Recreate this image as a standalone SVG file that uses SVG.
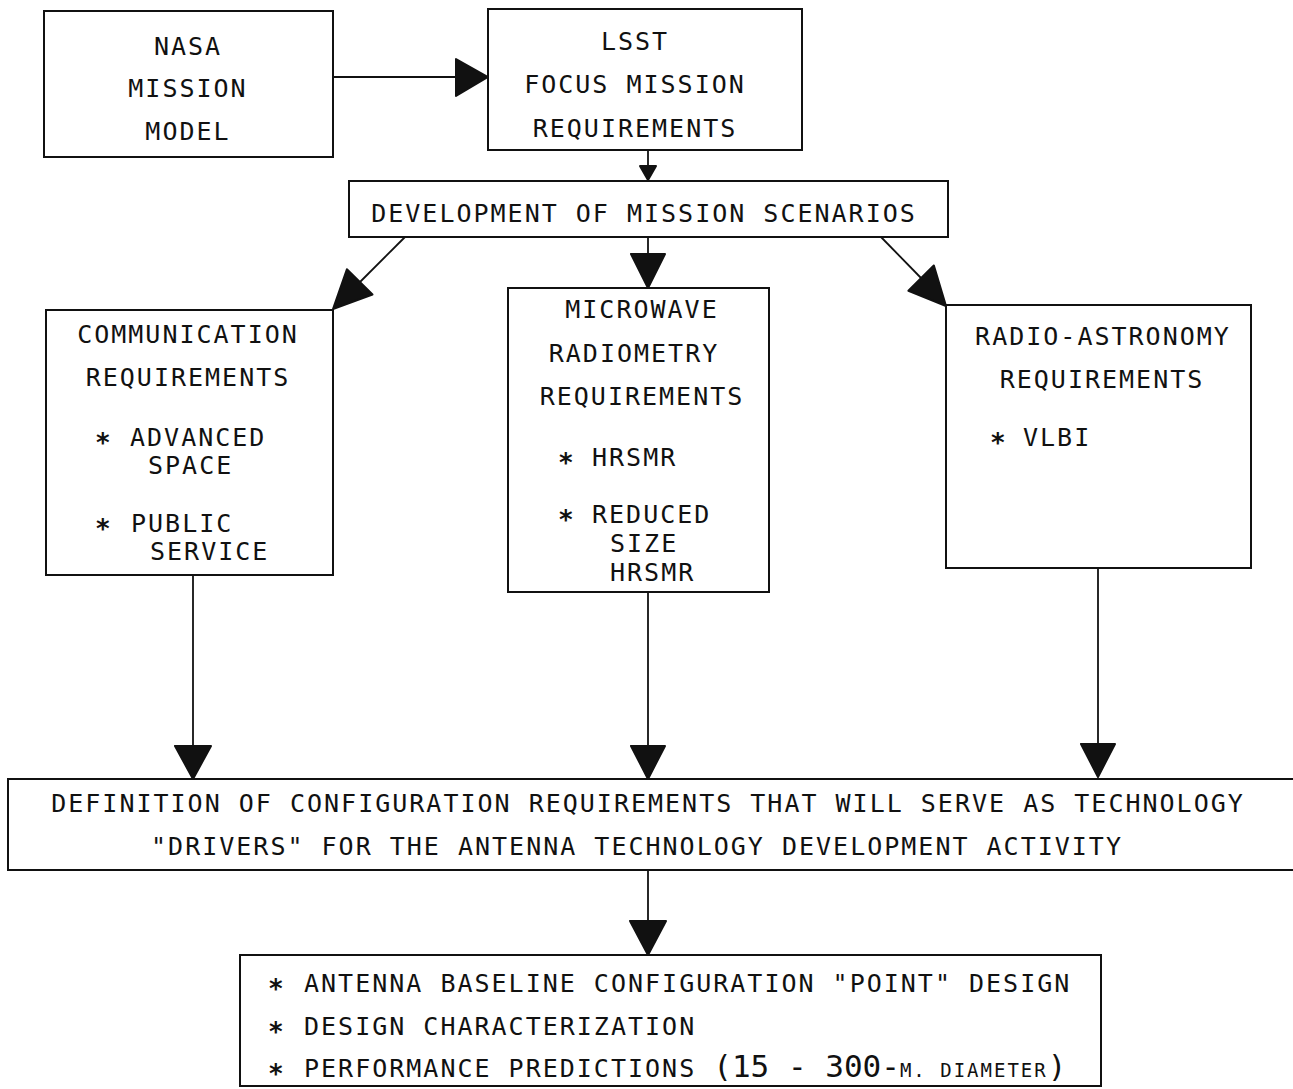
<svg xmlns="http://www.w3.org/2000/svg" width="1293" height="1089" viewBox="0 0 1293 1089">
<style>
.box{fill:none;stroke:#111;stroke-width:2}
.ln{fill:none;stroke:#111;stroke-width:1.8}
.hd{fill:#111;stroke:#111;stroke-width:2;stroke-linejoin:round}
text{font-family:"DejaVu Sans Mono","Liberation Mono",monospace;font-size:25px;fill:#111;letter-spacing:2px}
.c{text-anchor:middle}
.s{font-size:26px;font-weight:bold;letter-spacing:0}
</style>
<rect width="1293" height="1089" fill="#fff"/>
<g id="connectors">
<line class="ln" x1="333" y1="77" x2="456" y2="77"/>
<polygon class="hd" points="488,77 456,59 456,96"/>
<line class="ln" x1="648" y1="150" x2="648" y2="166"/>
<polygon class="hd" points="648,180 640,166 656,166"/>
<line class="ln" x1="405" y1="237" x2="358" y2="284"/>
<polygon class="hd" points="333,309 372.5,294.5 346.9,269.3"/>
<line class="ln" x1="648" y1="237" x2="648" y2="254"/>
<polygon class="hd" points="648,288 631,254 665,254"/>
<line class="ln" x1="881" y1="237" x2="922" y2="279"/>
<polygon class="hd" points="946,306 933.8,265.4 908.4,290.8"/>
<line class="ln" x1="193" y1="575" x2="193" y2="746"/>
<polygon class="hd" points="193,779 175,746 211,746"/>
<line class="ln" x1="648" y1="592" x2="648" y2="746"/>
<polygon class="hd" points="648,779 631,746 665,746"/>
<line class="ln" x1="1098" y1="568" x2="1098" y2="744"/>
<polygon class="hd" points="1098,777 1081,744 1115,744"/>
<line class="ln" x1="648" y1="870" x2="648" y2="921"/>
<polygon class="hd" points="648,955 630,921 666,921"/>
</g>
<g id="nasa">
<rect class="box" x="44" y="11" width="289" height="146"/>
<text class="c" x="188" y="55">NASA</text>
<text class="c" x="188" y="97">MISSION</text>
<text class="c" x="188" y="140">MODEL</text>
</g>
<g id="lsst">
<rect class="box" x="488" y="9" width="314" height="141"/>
<text class="c" x="635" y="50">LSST</text>
<text class="c" x="635" y="93">FOCUS MISSION</text>
<text class="c" x="635" y="137">REQUIREMENTS</text>
</g>
<g id="development">
<rect class="box" x="349" y="181" width="599" height="56"/>
<text class="c" x="644" y="222">DEVELOPMENT OF MISSION SCENARIOS</text>
</g>
<g id="communication">
<rect class="box" x="46" y="310" width="287" height="265"/>
<text class="c" x="188" y="343">COMMUNICATION</text>
<text class="c" x="188" y="386">REQUIREMENTS</text>
<text class="s" x="95" y="452">*</text>
<text x="130" y="446">ADVANCED</text>
<text x="148" y="474">SPACE</text>
<text class="s" x="95" y="538">*</text>
<text x="131" y="532">PUBLIC</text>
<text x="150" y="560">SERVICE</text>
</g>
<g id="microwave">
<rect class="box" x="508" y="288" width="261" height="304"/>
<text class="c" x="642" y="318">MICROWAVE</text>
<text class="c" x="634" y="362">RADIOMETRY</text>
<text class="c" x="642" y="405">REQUIREMENTS</text>
<text class="s" x="558" y="472">*</text>
<text x="592" y="466">HRSMR</text>
<text class="s" x="558" y="529">*</text>
<text x="592" y="523">REDUCED</text>
<text x="610" y="552">SIZE</text>
<text x="610" y="581">HRSMR</text>
</g>
<g id="radio">
<rect class="box" x="946" y="305" width="305" height="263"/>
<text class="c" x="1103" y="345">RADIO-ASTRONOMY</text>
<text class="c" x="1102" y="388">REQUIREMENTS</text>
<text class="s" x="990" y="452">*</text>
<text x="1023" y="446">VLBI</text>
</g>
<g id="definition">
<rect class="box" x="8" y="779" width="1300" height="91"/>
<text class="c" x="648" y="812">DEFINITION OF CONFIGURATION REQUIREMENTS THAT WILL SERVE AS TECHNOLOGY</text>
<text class="c" x="637" y="855">"DRIVERS" FOR THE ANTENNA TECHNOLOGY DEVELOPMENT ACTIVITY</text>
</g>
<g id="results">
<rect class="box" x="240" y="955" width="861" height="131"/>
<text class="s" x="268" y="998">*</text>
<text x="304" y="992">ANTENNA BASELINE CONFIGURATION "POINT" DESIGN</text>
<text class="s" x="268" y="1041">*</text>
<text x="304" y="1035">DESIGN CHARACTERIZATION</text>
<text class="s" x="268" y="1083">*</text>
<text x="304" y="1077">PERFORMANCE PREDICTIONS <tspan font-size="31" letter-spacing="0">(15 - 300-</tspan><tspan font-size="19">M. DIAMETER</tspan><tspan font-size="31" letter-spacing="0">)</tspan></text>
</g>
</svg>
